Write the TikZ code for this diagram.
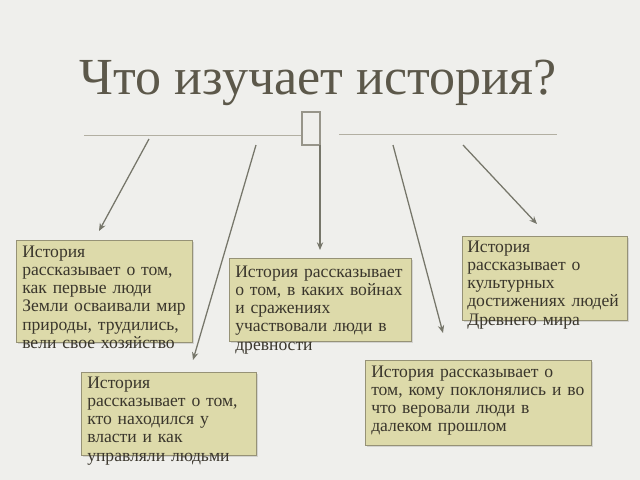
\documentclass[tikz,border=0pt]{standalone}
\usepackage{fontspec}
\setmainfont{Liberation Serif}
\usetikzlibrary{arrows.meta,shadows}

\definecolor{bgcol}{RGB}{239,239,236}
\definecolor{boxfill}{RGB}{221,218,170}
\definecolor{boxline}{RGB}{150,146,118}
\definecolor{inkcol}{RGB}{58,54,44}
\definecolor{titlecol}{RGB}{92,88,74}
\definecolor{arrowcol}{RGB}{118,118,106}
\definecolor{rulecol}{RGB}{178,175,162}

\begin{document}
\begin{tikzpicture}[x=0.025cm, y=-0.025cm,
    box/.style={draw=boxline, fill=boxfill, line width=0.8pt, anchor=north west,
        inner sep=0pt, drop shadow={opacity=0.25, shadow xshift=1pt, shadow yshift=-1pt}},
    txt/.style={anchor=base west, inner sep=0pt, text width=6cm, align=left,
        font=\fontsize{12.5}{13}\selectfont, text=inkcol},
    edge/.style={draw=arrowcol, line width=0.9pt, -{Stealth[length=5.5pt, width=4.5pt]}}
]
    \fill[bgcol] (0,0) rectangle (640,480);
    \useasboundingbox (0,0) rectangle (640,480);

    \node[anchor=base, inner sep=0pt, text=titlecol,
        font=\fontsize{37}{40}\selectfont] (ttl) at (318,94) {Что изучает история?};
    \node[draw=rulecol!85!black, line width=1.4pt, minimum width=0.45cm,
        minimum height=0.825cm, inner sep=0pt] (sym) at (311,128.5) {};
    \draw[rulecol, line width=0.7pt] (84,135) -- (sym.west |- 0,135);
    \draw[rulecol, line width=0.7pt] (339,134) -- (557,134);

    \node[box, minimum width=4.4cm, minimum height=2.55cm] (b1) at (16,240) {};
    \node[box, minimum width=4.375cm, minimum height=2.075cm] (b2) at (81,372) {};
    \node[box, minimum width=4.55cm, minimum height=2.075cm] (b3) at (229,258) {};
    \node[box, minimum width=5.65cm, minimum height=2.125cm] (b4) at (365,360) {};
    \node[box, minimum width=4.125cm, minimum height=2.1cm] (b5) at (462,236) {};

    \node[txt] (t1) at (22,257) {История\\рассказывает о том,\\как первые люди\\Земли осваивали мир\\природы, трудились,\\вели свое хозяйство};
    \node[txt] (t2) at (87,388) {История\\рассказывает о том,\\кто находился у\\власти и как\\управляли людьми};
    \node[txt] (t3) at (235,277) {История рассказывает\\о том, в каких войнах\\и сражениях\\участвовали люди в\\древности};
    \node[txt] (t4) at (371,377) {История рассказывает о\\том, кому поклонялись и во\\что веровали люди в\\далеком прошлом};
    \node[txt] (t5) at (467,252) {История\\рассказывает о\\культурных\\достижениях людей\\Древнего мира};

    \coordinate (s1) at (149,139);
    \coordinate (e1) at (99,231);
    \coordinate (s2) at (256,145);
    \coordinate (e2) at (193,360);
    \coordinate (s3) at (320,145);
    \coordinate (e3) at (320,250);
    \coordinate (s4) at (393,145);
    \coordinate (e4) at (443,333);
    \coordinate (s5) at (463,145);
    \coordinate (e5) at (537,224);
    \draw[edge] (s1) -- (e1);
    \draw[edge] (s2) -- (e2);
    \draw[edge] (s3) -- (e3);
    \draw[edge] (s4) -- (e4);
    \draw[edge] (s5) -- (e5);
\end{tikzpicture}
\end{document}
